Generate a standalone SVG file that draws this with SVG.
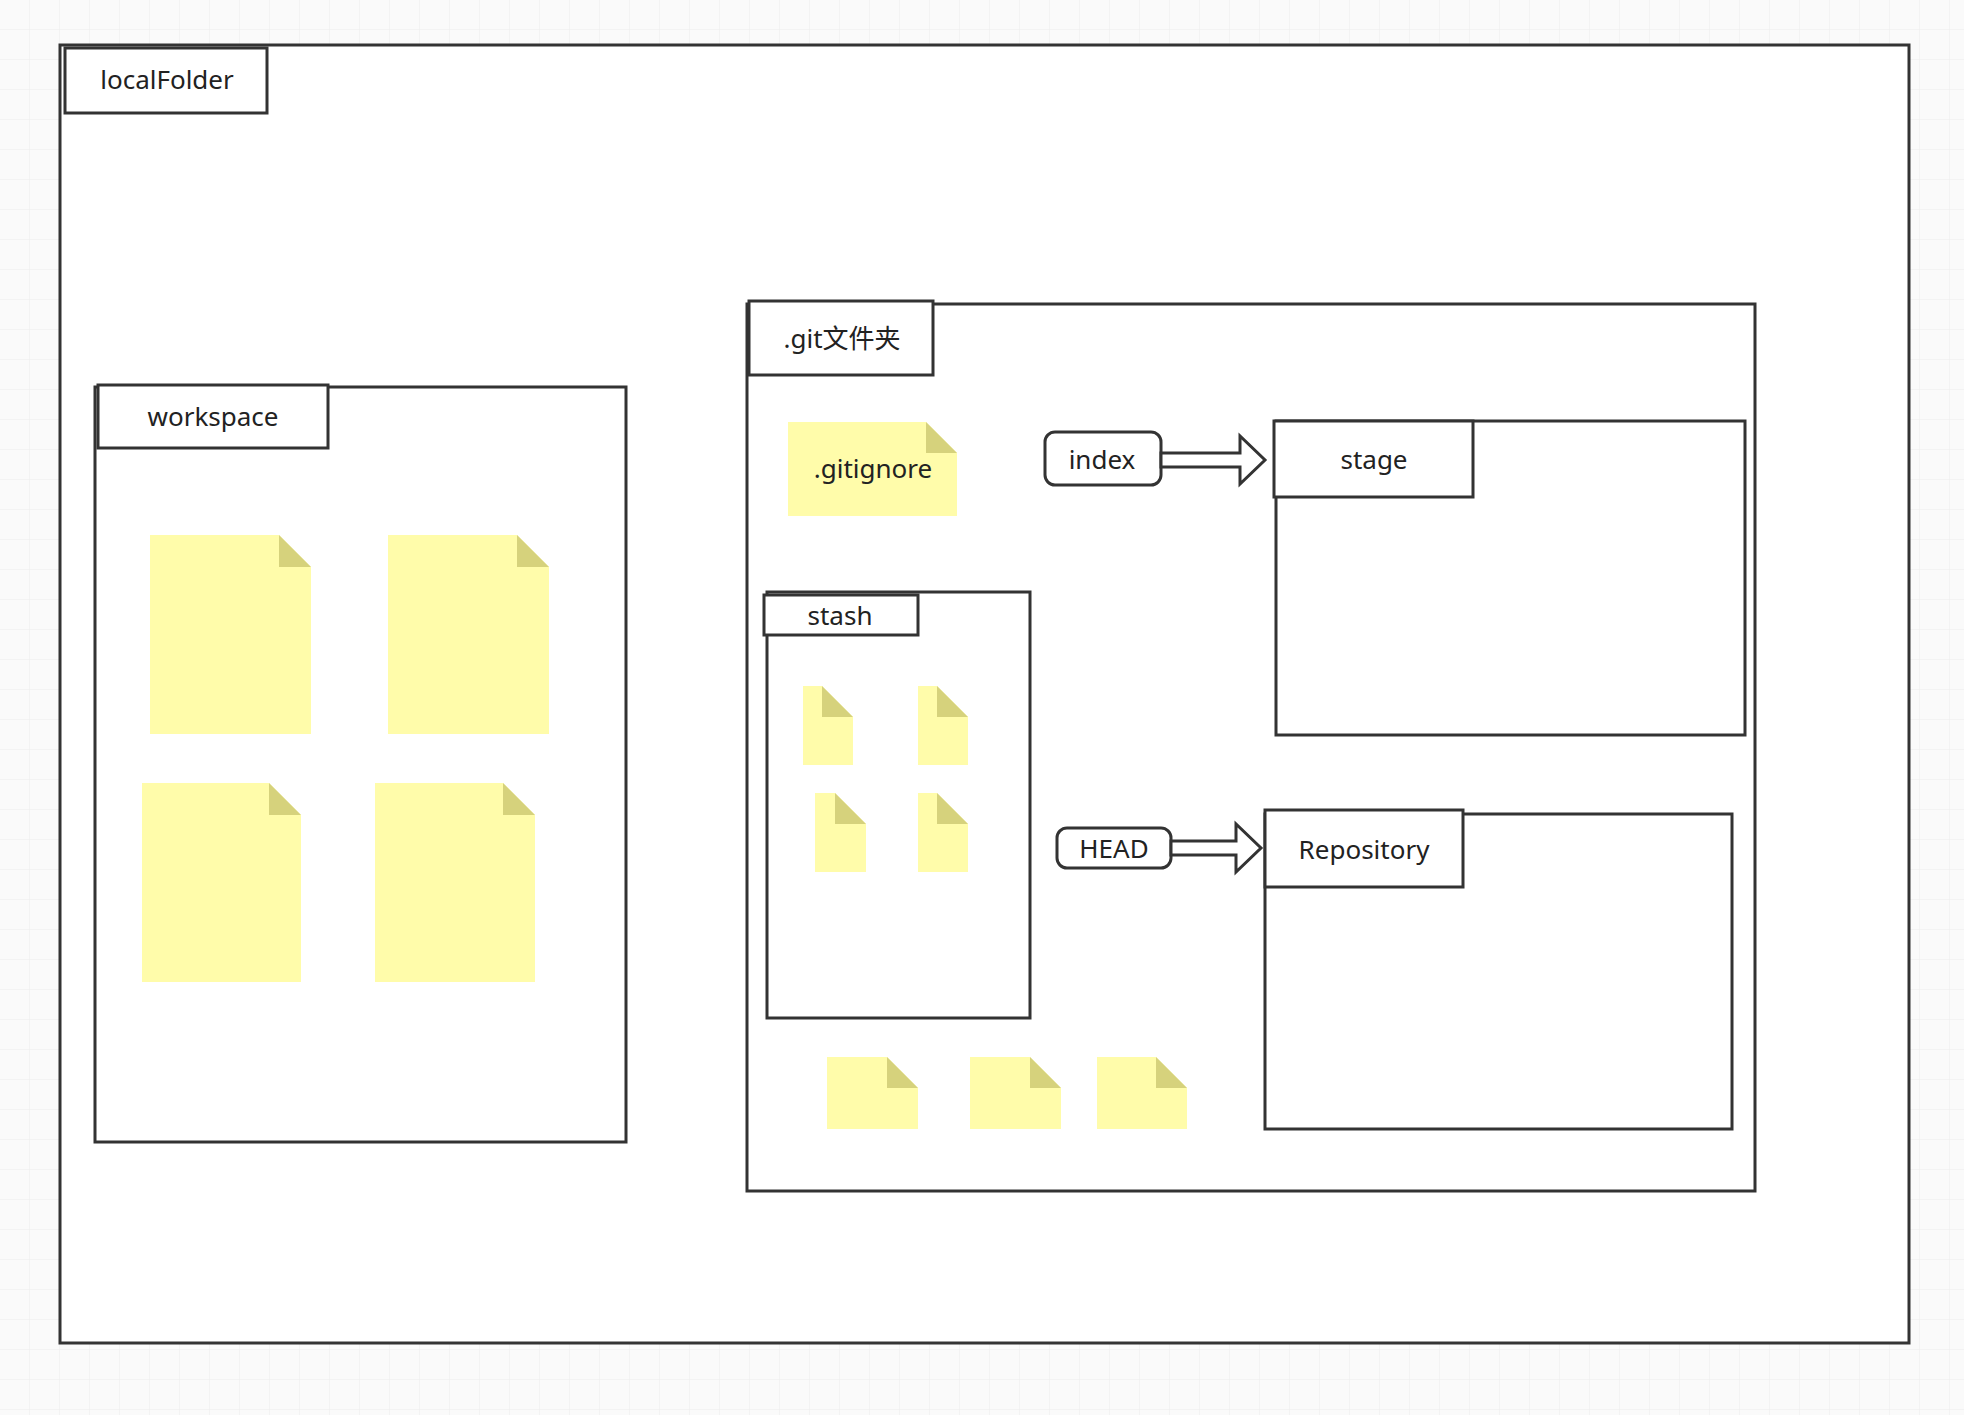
<svg xmlns="http://www.w3.org/2000/svg" width="1964" height="1415" viewBox="0 0 1964 1415">
<defs>
<pattern id="g" width="30" height="30" patternUnits="userSpaceOnUse"><path d="M30 0V30H0" fill="none" stroke="#ececec" stroke-width="1"/></pattern>
<style>
.b{fill:#fff;stroke:#333;stroke-width:3}
.n{fill:#fffcaa}
.f{fill:#d6d27c}
text{font-family:"Noto Sans","Noto Sans CJK SC",sans-serif;font-size:26px;fill:#222;text-anchor:middle;dominant-baseline:central}
</style>
</defs>
<rect width="1964" height="1415" fill="#fafafa"/>
<rect width="1964" height="1415" fill="url(#g)"/>
<g id="localFolder"><rect class="b" x="60" y="45" width="1849" height="1298"/><rect class="b" x="65" y="48" width="202" height="65"/><text x="167" y="79">localFolder</text></g>
<g id="workspace"><rect class="b" x="95" y="387" width="531" height="755"/><rect class="b" x="98" y="385" width="230" height="63"/><text x="213" y="416">workspace</text>
<path class="n" d="M150 535H279L311 567V734H150Z"/><path class="f" d="M279 535L311 567H279Z"/>
<path class="n" d="M388 535H517L549 567V734H388Z"/><path class="f" d="M517 535L549 567H517Z"/>
<path class="n" d="M142 783H269L301 815V982H142Z"/><path class="f" d="M269 783L301 815H269Z"/>
<path class="n" d="M375 783H503L535 815V982H375Z"/><path class="f" d="M503 783L535 815H503Z"/>
</g>
<g id="git"><rect class="b" x="747" y="304" width="1008" height="887"/><rect class="b" x="749" y="301" width="184" height="74"/><text x="842" y="338">.git文件夹</text></g>
<g id="gitignore"><path class="n" d="M788 422H926L957 453V516H788Z"/><path class="f" d="M926 422L957 453H926Z"/><text x="873" y="468">.gitignore</text></g>
<g id="index"><rect class="b" x="1045" y="432" width="116" height="53" rx="10"/><text x="1102" y="459">index</text></g>
<g id="stage"><rect class="b" x="1276" y="421" width="469" height="314"/><rect class="b" x="1274" y="421" width="199" height="76"/><text x="1374" y="459">stage</text></g>
<g id="stash"><rect class="b" x="767" y="592" width="263" height="426"/><rect class="b" x="764" y="595" width="154" height="40"/><text x="840" y="615">stash</text>
<path class="n" d="M803 686H822L853 717V765H803Z"/><path class="f" d="M822 686L853 717H822Z"/>
<path class="n" d="M918 686H937L968 717V765H918Z"/><path class="f" d="M937 686L968 717H937Z"/>
<path class="n" d="M815 793H835L866 824V872H815Z"/><path class="f" d="M835 793L866 824H835Z"/>
<path class="n" d="M918 793H937L968 824V872H918Z"/><path class="f" d="M937 793L968 824H937Z"/>
</g>
<g id="HEAD"><rect class="b" x="1057" y="828" width="114" height="40" rx="10"/><text x="1114" y="848">HEAD</text></g>
<g id="Repository"><rect class="b" x="1265" y="814" width="467" height="315"/><rect class="b" x="1265" y="810" width="198" height="77"/><text x="1364" y="849">Repository</text></g>
<g id="files">
<path class="n" d="M827 1057H887L918 1088V1129H827Z"/><path class="f" d="M887 1057L918 1088H887Z"/>
<path class="n" d="M970 1057H1030L1061 1088V1129H970Z"/><path class="f" d="M1030 1057L1061 1088H1030Z"/>
<path class="n" d="M1097 1057H1156L1187 1088V1129H1097Z"/><path class="f" d="M1156 1057L1187 1088H1156Z"/>
</g>
<g id="connectors">
<polygon class="b" points="1161,453 1240,453 1240,436 1265,460 1240,484 1240,467 1161,467"/>
<polygon class="b" points="1171,841 1236,841 1236,824 1261,848 1236,872 1236,855 1171,855"/>
</g>
</svg>
